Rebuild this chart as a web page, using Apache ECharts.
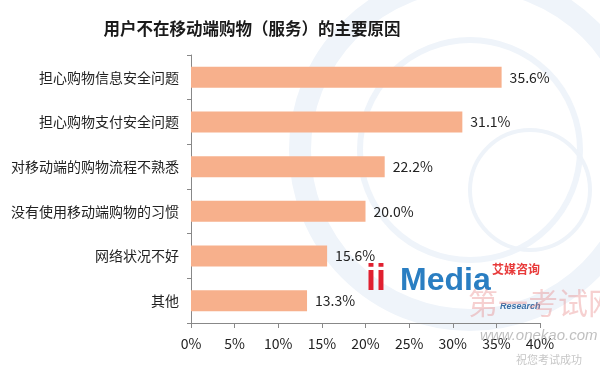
<!DOCTYPE html>
<html><head><meta charset="utf-8">
<script src="https://cdn.jsdelivr.net/npm/echarts@6/dist/echarts.min.js"></script>
<style>html,body{margin:0;padding:0;background:#fff}#c{width:600px;height:369px}</style>
</head><body><div id="c"></div>
<script>
var titleText = '用户不在移动端购物（服务）的主要原因';
var categories = ['担心购物信息安全问题','担心购物支付安全问题','对移动端的购物流程不熟悉','没有使用移动端购物的习惯','网络状况不好','其他'];
var values = [35.6, 31.1, 22.2, 20.0, 15.6, 13.3];
var xTicks = [0, 5, 10, 15, 20, 25, 30, 35, 40];

var chart = echarts.init(document.getElementById('c'));
var font = '"Noto Sans CJK SC", "Microsoft YaHei", sans-serif';
chart.setOption({
  backgroundColor: '#ffffff',
  animation: false,
  title: {
    text: titleText, left: 247, top: 15, textAlign: 'center',
    textStyle: {fontSize: 16.5, fontWeight: 'bold', color: '#1a1a1a', fontFamily: font}
  },
  graphic: [
    {type: 'circle', silent: true, z: -10, shape: {cx: 470, cy: 150, r: 170}, style: {fill: 'none', stroke: '#eff4fa', lineWidth: 22}},
    {type: 'circle', silent: true, z: -10, shape: {cx: 470, cy: 150, r: 110}, style: {fill: 'none', stroke: '#eff4fa', lineWidth: 6}},
    {type: 'circle', silent: true, z: -10, shape: {cx: 530, cy: 190, r: 60}, style: {fill: 'none', stroke: '#eef3f9', lineWidth: 4}},
    {type: 'text', silent: true, z: 10, left: 366, top: 262, style: {text: 'ii', fill: '#e02030', font: 'bold 36px Arial, sans-serif'}},
    {type: 'text', silent: true, z: 10, left: 400, top: 265, style: {text: 'Media', fill: '#2a7ec2', font: 'bold 32px Arial, sans-serif'}},
    {type: 'text', silent: true, z: 10, left: 492, top: 263, style: {text: '艾媒咨询', fill: '#e83a3a', font: 'bold 12px "Noto Sans CJK SC", sans-serif'}},
    {type: 'text', silent: true, z: 10, left: 500, top: 302, style: {text: 'Research', fill: '#3a6ea5', font: 'italic bold 9px Arial, sans-serif'}},
    {type: 'text', silent: true, z: 10, left: 468, top: 288, style: {text: '第一考试网', fill: 'rgba(230,120,120,0.35)', font: '30px "Noto Sans CJK SC", sans-serif'}},
    {type: 'text', silent: true, z: 10, left: 480, top: 328, style: {text: 'www.onekao.com', fill: 'rgba(150,150,150,0.6)', font: 'italic 15px Arial, sans-serif'}},
    {type: 'text', silent: true, z: 10, left: 516, top: 354, style: {text: '祝您考试成功', fill: 'rgba(160,160,160,0.6)', font: '11px "Noto Sans CJK SC", sans-serif'}}
  ],
  grid: {left: 191, right: 60, top: 55, bottom: 46, containLabel: false},
  xAxis: {
    type: 'value', min: 0, max: 40, interval: 5,
    axisLine: {show: true, lineStyle: {color: '#888', width: 1}},
    axisTick: {show: true, length: 5, lineStyle: {color: '#888'}},
    splitLine: {show: false},
    axisLabel: {formatter: function (v) { return xTicks.indexOf(v) >= 0 ? v + '%' : ''; }, color: '#222', fontSize: 14, margin: 14, fontFamily: font}
  },
  yAxis: {
    type: 'category', data: categories, inverse: true,
    axisLine: {show: true, lineStyle: {color: '#888', width: 1}},
    axisTick: {show: true, length: 4, lineStyle: {color: '#888'}},
    axisLabel: {color: '#222', fontSize: 14, margin: 12, fontFamily: font}
  },
  series: [{
    type: 'bar', data: values, barWidth: 21,
    itemStyle: {color: '#f7b08c'},
    label: {show: true, position: 'right', distance: 8, color: '#222', fontSize: 14, fontFamily: font,
      formatter: function (p) { return p.value.toFixed(1) + '%'; }}
  }]
});
</script></body></html>
